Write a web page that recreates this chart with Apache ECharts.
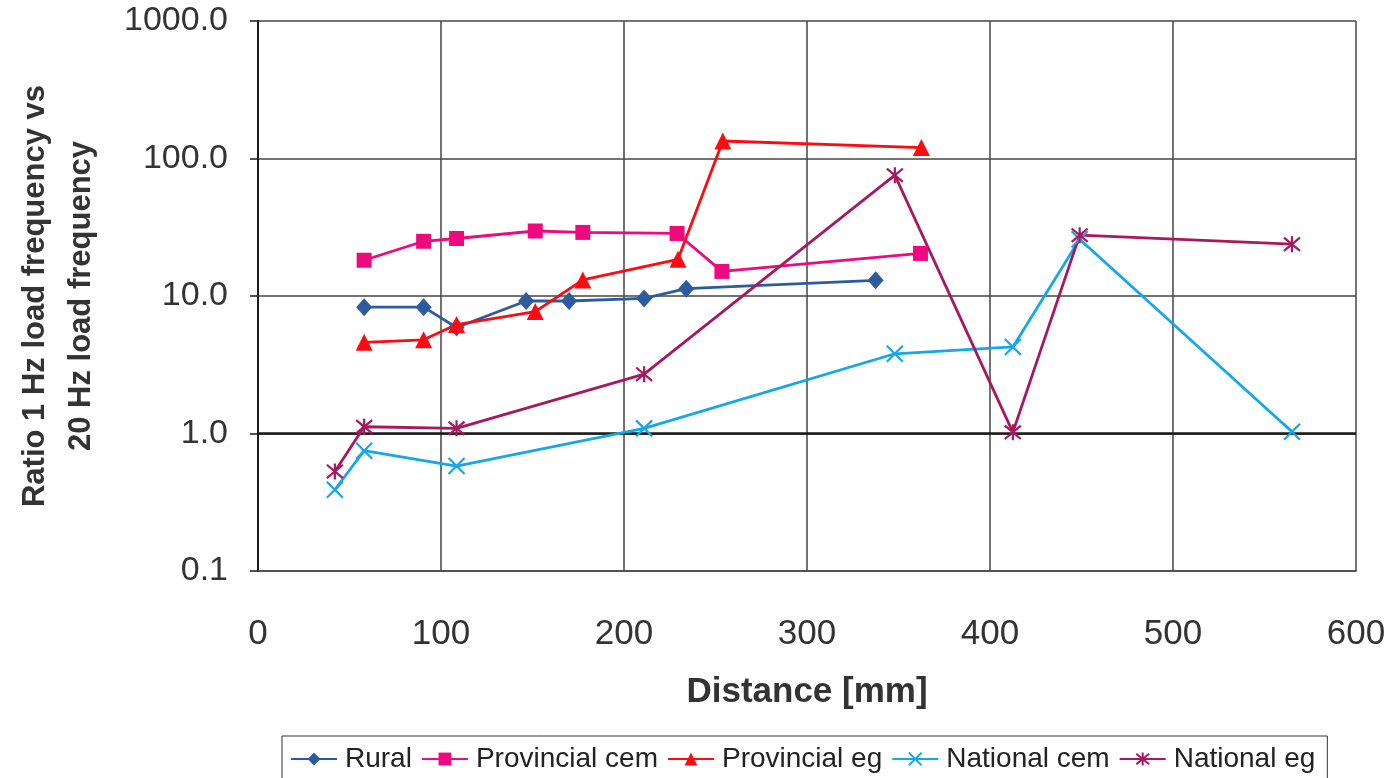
<!DOCTYPE html>
<html>
<head>
<meta charset="utf-8">
<script src="https://cdn.jsdelivr.net/npm/echarts@6/dist/echarts.min.js"></script>
<style>
  html, body { margin: 0; padding: 0; background: #ffffff; }
  #chart { width: 1398px; height: 778px; }
</style>
</head>
<body>
<div id="chart"></div>
<script>
// Distance [mm] and ratio of 1 Hz to 20 Hz load frequency, per pavement type
const ruralX = [58, 90.5, 108.5, 146.5, 170, 211, 234, 337.5];
const ruralY = [8.3, 8.3, 5.9, 9.2, 9.2, 9.6, 11.3, 13.0];

const provCemX = [58, 90.5, 108.5, 151.5, 177.5, 229, 253.5, 362];
const provCemY = [18.2, 25.0, 26.2, 29.7, 29.0, 28.5, 15.1, 20.4];

const provEgX = [58, 90.5, 108.5, 151.5, 177.5, 229.5, 254, 362.5];
const provEgY = [4.6, 4.8, 6.2, 7.7, 13.1, 18.5, 134, 120];

const natCemX = [42, 58, 108.5, 211, 348, 412.5, 449, 565];
const natCemY = [0.39, 0.75, 0.58, 1.09, 3.8, 4.26, 25.9, 1.03];

const natEgX = [42, 58, 108.5, 211, 348, 412.5, 449, 565];
const natEgY = [0.53, 1.12, 1.09, 2.7, 75.6, 1.02, 27.7, 23.8];

const seriesNames = ['Rural', 'Provincial cem', 'Provincial eg', 'National cem', 'National eg'];
const seriesColors = ['#2C5C9E', '#EE0A7E', '#FF0A10', '#14A8EA', '#A8185E'];
const xTicks = [0, 100, 200, 300, 400, 500, 600];

const pairs = (xs, ys) => xs.map((x, i) => [x, ys[i]]);

const crossPath = 'path://M0,0L10,10M10,0L0,10';
const starPath = 'path://M0,0L10,10M10,0L0,10M5,-1L5,11';
const FONT = 'Liberation Sans, Arial, sans-serif';

const chart = echarts.init(document.getElementById('chart'), null, { renderer: 'canvas' });

function lineSeries(idx, data, symbol, size, stroked) {
  const c = seriesColors[idx];
  return {
    name: seriesNames[idx],
    type: 'line',
    data: data,
    symbol: symbol,
    symbolSize: size,
    showAllSymbol: true,
    lineStyle: { color: c, width: 2.8 },
    itemStyle: stroked
      ? { color: 'rgba(0,0,0,0)', borderColor: c, borderWidth: 2.2 }
      : { color: c, borderWidth: 0 },
    emphasis: { disabled: true },
    z: 3
  };
}

const series = [
  lineSeries(0, pairs(ruralX, ruralY), 'diamond', [16, 18], false),
  lineSeries(1, pairs(provCemX, provCemY), 'rect', 15, false),
  lineSeries(2, pairs(provEgX, provEgY), 'triangle', 17, false),
  lineSeries(3, pairs(natCemX, natCemY), crossPath, 16, true),
  lineSeries(4, pairs(natEgX, natEgY), starPath, 16, true)
];

// The category axis crosses the value axis at 1.0
series[0].markLine = {
  silent: true,
  symbol: 'none',
  label: { show: false },
  lineStyle: { color: '#1a1a1a', width: 2.5, type: 'solid' },
  data: [{ yAxis: 1 }],
  z: 2
};

chart.setOption({
  animation: false,
  backgroundColor: '#ffffff',
  grid: { left: 258, right: 42, top: 21, bottom: 207, containLabel: false, outerBoundsMode: 'none' },
  xAxis: {
    type: 'value',
    min: xTicks[0],
    max: xTicks[xTicks.length - 1],
    interval: 100,
    name: 'Distance [mm]',
    nameLocation: 'middle',
    nameGap: 104,
    nameTextStyle: { fontFamily: FONT, fontSize: 35, fontWeight: 'bold', color: '#333' },
    axisLine: { show: true, lineStyle: { color: '#4a4a4a', width: 1.5 } },
    axisTick: { show: false },
    axisLabel: { margin: 46, fontFamily: FONT, fontSize: 35, color: '#333' },
    splitLine: { show: true, lineStyle: { color: '#444', width: 1.5 } }
  },
  yAxis: {
    type: 'log',
    logBase: 10,
    min: 0.1,
    max: 1000,
    name: 'Ratio 1 Hz load frequency vs\n20 Hz load frequency',
    nameLocation: 'middle',
    nameGap: 154,
    nameRotate: 90,
    nameTextStyle: { fontFamily: FONT, fontSize: 31, fontWeight: 'bold', color: '#333', lineHeight: 46, align: 'center' },
    axisLine: { show: true, lineStyle: { color: '#1a1a1a', width: 2 } },
    axisTick: { show: true, length: 8, lineStyle: { color: '#1a1a1a', width: 1.5 } },
    axisLabel: {
      margin: 30,
      fontFamily: FONT,
      fontSize: 34,
      color: '#333',
      formatter: v => Number(v).toFixed(1)
    },
    splitLine: { show: true, lineStyle: { color: '#444', width: 1.5 } }
  },
  legend: {
    data: seriesNames,
    left: 282,
    top: 736,
    orient: 'horizontal',
    itemWidth: 46,
    itemHeight: 16,
    itemGap: 9,
    padding: [9, 12, 20, 8],
    borderColor: '#333',
    borderWidth: 1,
    textStyle: { fontFamily: FONT, fontSize: 28, color: '#222', padding: [0, 0, 0, 3] }
  },
  series: series
});
</script>
</body>
</html>
